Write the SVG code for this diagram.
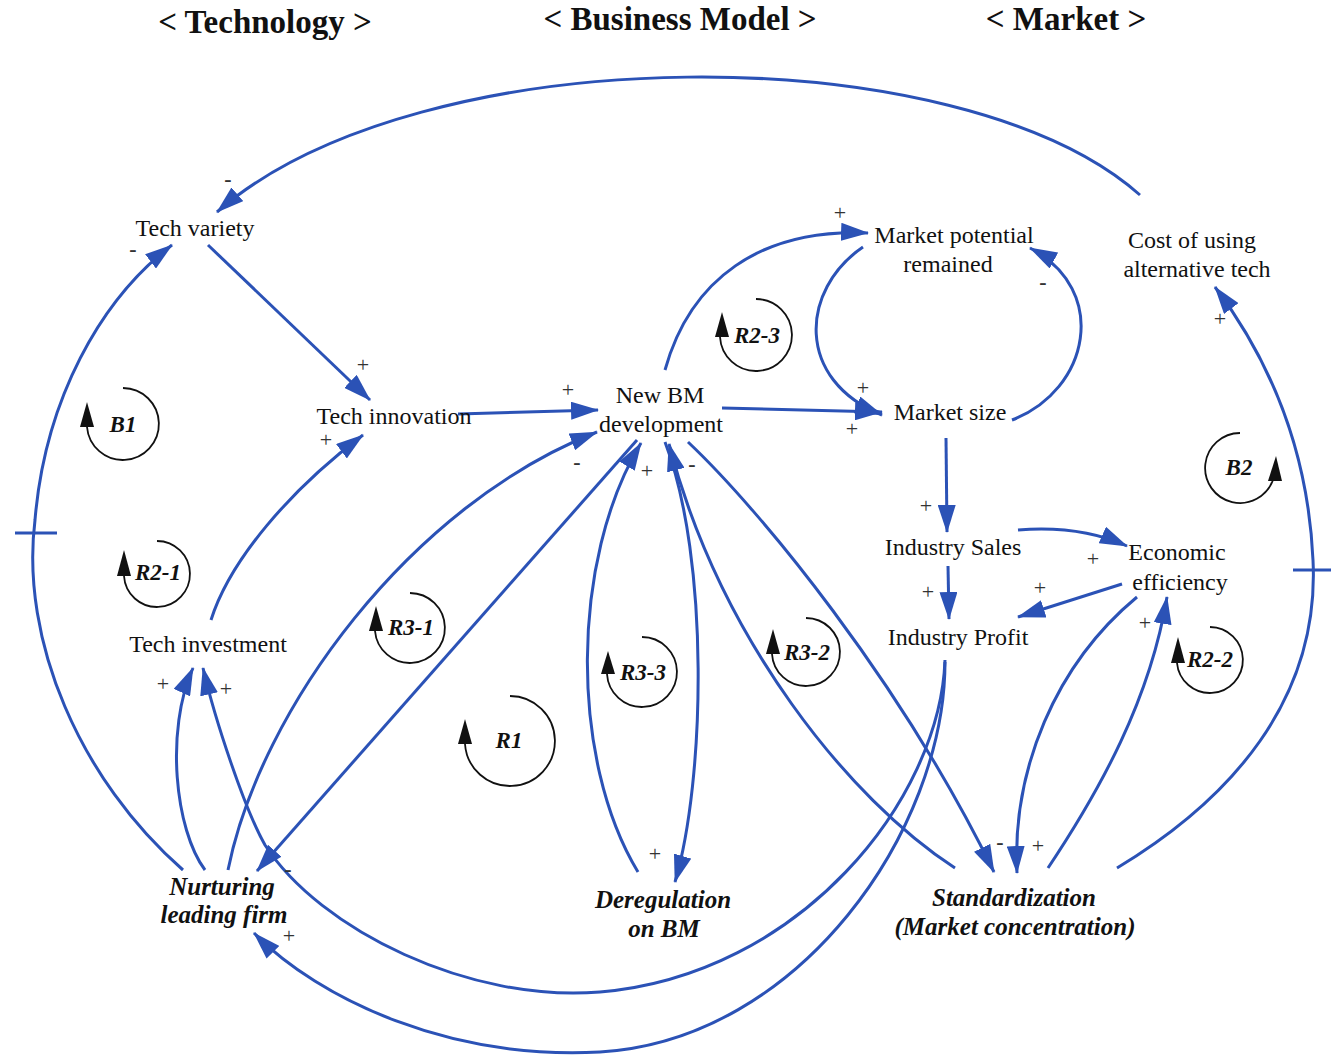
<svg xmlns="http://www.w3.org/2000/svg" width="1331" height="1057" viewBox="0 0 1331 1057">
  <style>
    .lnk { fill: none; stroke: #2b52b6; stroke-width: 3; }
    .arr { marker-end: url(#ah); }
    .tick { fill: none; stroke: #2b52b6; stroke-width: 3; }
    .txt { font-family: "Liberation Serif", "Times New Roman", serif; fill: #111; text-anchor: middle; }
    .hdr { font-size: 33px; font-weight: bold; }
    .var { font-size: 24px; }
    .lev { font-size: 25px; font-weight: bold; font-style: italic; }
    .sgn { font-family: "Liberation Serif", "Times New Roman", serif; font-size: 22px; fill: #333; text-anchor: middle; }
    .neg { font-weight: bold; }
    .loop { fill: none; stroke: #111; stroke-width: 1.8; }
    .lhead { fill: #111; }
    .lid { font-family: "Liberation Serif", "Times New Roman", serif; font-size: 23px; font-weight: bold; font-style: italic; fill: #111; text-anchor: middle; }
  </style>
  <defs>
    <marker id="ah" markerUnits="userSpaceOnUse" viewBox="0 0 28 18" refX="27" refY="9" markerWidth="28" markerHeight="18" orient="auto">
      <path d="M0,0 L28,9 L0,18 Z" fill="#2b52b6"/>
    </marker>
  </defs>
  <rect width="1331" height="1057" fill="#fff"/>

  <!-- sector headings -->
  <g id="headings" class="txt hdr">
    <text x="265" y="33">&lt; Technology &gt;</text>
    <text x="680" y="30">&lt; Business Model &gt;</text>
    <text x="1066" y="30">&lt; Market &gt;</text>
  </g>

  <!-- causal links -->
  <g id="connectors">
    <path class="lnk arr" d="M1140,195 C960,35 420,35 217,212"/>
    <path class="lnk arr" d="M208,245 L370,400"/>
    <path class="lnk arr" d="M183,870 C80,780 20,640 35,520 C45,400 100,300 172,245"/>
    <path class="lnk arr" d="M205,870 C175,830 165,730 193,668"/>
    <path class="lnk arr" d="M945,660 C940,800 800,975 600,992 C470,1003 320,930 265,845 C245,810 215,720 203,668"/>
    <path class="lnk arr" d="M945,662 C945,830 800,1040 600,1052 C450,1060 320,1000 254,933"/>
    <path class="lnk arr" d="M228,870 C260,710 410,505 597,432"/>
    <path class="lnk arr" d="M637,440 L257,871"/>
    <path class="lnk arr" d="M638,872 C570,760 570,560 641,443"/>
    <path class="lnk arr" d="M665,442 C710,560 705,780 675,882"/>
    <path class="lnk arr" d="M955,868 C850,800 720,640 669,444"/>
    <path class="lnk arr" d="M688,442 C760,510 900,680 994,872"/>
    <path class="lnk arr" d="M458,414 L598,410"/>
    <path class="lnk arr" d="M211,620 C230,560 290,490 363,435"/>
    <path class="lnk arr" d="M665,370 C690,280 760,228 868,233"/>
    <path class="lnk arr" d="M863,247 C800,290 795,380 882,415"/>
    <path class="lnk arr" d="M1012,420 C1090,390 1110,290 1030,248"/>
    <path class="lnk arr" d="M722,408 L882,412"/>
    <path class="lnk arr" d="M946,438 L947,532"/>
    <path class="lnk arr" d="M948,566 L949,619"/>
    <path class="lnk arr" d="M1018,530 Q1080,525 1127,546"/>
    <path class="lnk arr" d="M1122,584 L1018,617"/>
    <path class="lnk arr" d="M1137,597 C1055,665 1012,770 1017,873"/>
    <path class="lnk arr" d="M1048,868 C1100,790 1150,700 1167,597"/>
    <path class="lnk arr" d="M1117,868 C1230,800 1320,700 1313,560 C1308,450 1270,360 1215,287"/>
    <!-- delay marks -->
    <path class="tick" d="M15,533 L57,533"/>
    <path class="tick" d="M1293,570 L1331,570"/>
  </g>

  <!-- link polarities -->
  <g id="polarities" class="sgn">
    <text class="neg" x="228" y="186">-</text>
    <text class="neg" x="133" y="256">-</text>
    <text x="363" y="372">+</text>
    <text x="326" y="447">+</text>
    <text x="568" y="397">+</text>
    <text class="neg" x="577" y="469">-</text>
    <text x="647" y="478">+</text>
    <text class="neg" x="692" y="471">-</text>
    <text x="840" y="220">+</text>
    <text x="863" y="395">+</text>
    <text x="852" y="436">+</text>
    <text class="neg" x="1043" y="289">-</text>
    <text x="1220" y="326">+</text>
    <text x="926" y="513">+</text>
    <text x="1093" y="566">+</text>
    <text x="928" y="599">+</text>
    <text x="1040" y="595">+</text>
    <text x="1145" y="630">+</text>
    <text x="163" y="691">+</text>
    <text x="226" y="696">+</text>
    <text class="neg" x="288" y="876">-</text>
    <text x="289" y="943">+</text>
    <text x="655" y="861">+</text>
    <text class="neg" x="1000" y="849">-</text>
    <text x="1038" y="853">+</text>
  </g>

  <!-- variables -->
  <g id="tech-variety" class="txt var"><text x="195" y="236">Tech variety</text></g>
  <g id="tech-innovation" class="txt var"><text x="394" y="424">Tech innovation</text></g>
  <g id="tech-investment" class="txt var"><text x="208" y="652">Tech investment</text></g>
  <g id="new-bm-development" class="txt var">
    <text x="660" y="403">New BM</text>
    <text x="661" y="432">development</text>
  </g>
  <g id="market-potential" class="txt var">
    <text x="954" y="243">Market potential</text>
    <text x="948" y="272">remained</text>
  </g>
  <g id="cost-alt-tech" class="txt var">
    <text x="1192" y="248">Cost of using</text>
    <text x="1197" y="277">alternative tech</text>
  </g>
  <g id="market-size" class="txt var"><text x="950" y="420">Market size</text></g>
  <g id="industry-sales" class="txt var"><text x="953" y="555">Industry Sales</text></g>
  <g id="economic-efficiency" class="txt var">
    <text x="1177" y="560">Economic</text>
    <text x="1180" y="590">efficiency</text>
  </g>
  <g id="industry-profit" class="txt var"><text x="958" y="645">Industry Profit</text></g>
  <g id="nurturing-leading-firm" class="txt lev">
    <text x="222" y="895">Nurturing</text>
    <text x="224" y="923">leading firm</text>
  </g>
  <g id="deregulation-bm" class="txt lev">
    <text x="663" y="908">Deregulation</text>
    <text x="664" y="937">on BM</text>
  </g>
  <g id="standardization" class="txt lev">
    <text x="1014" y="906">Standardization</text>
    <text x="1015" y="935">(Market concentration)</text>
  </g>

  <!-- loop identifiers -->
  <g id="loop-b1">
    <path class="loop" d="M123,388 A36,36 0 1 1 87,427"/>
    <path class="lhead" d="M87,402 L80,427 L94,427 Z"/>
    <text class="lid" x="123" y="432">B1</text>
  </g>
  <g id="loop-r2-1">
    <path class="loop" d="M157,541 A33,33 0 1 1 124,576"/>
    <path class="lhead" d="M124,550 L117,576 L131,576 Z"/>
    <text class="lid" x="158" y="580">R2-1</text>
  </g>
  <g id="loop-r2-3">
    <path class="loop" d="M756,299 A36,36 0 1 1 720,337"/>
    <path class="lhead" d="M722,312 L715,337 L729,337 Z"/>
    <text class="lid" x="757" y="343">R2-3</text>
  </g>
  <g id="loop-r3-1">
    <path class="loop" d="M410,593 A35,35 0 1 1 375,631"/>
    <path class="lhead" d="M376,606 L369,631 L383,631 Z"/>
    <text class="lid" x="411" y="635">R3-1</text>
  </g>
  <g id="loop-r1">
    <path class="loop" d="M510,696 A45,45 0 1 1 465,744"/>
    <path class="lhead" d="M465,719 L458,744 L472,744 Z"/>
    <text class="lid" x="509" y="748">R1</text>
  </g>
  <g id="loop-r3-3">
    <path class="loop" d="M642,637 A35,35 0 1 1 607,674"/>
    <path class="lhead" d="M608,651 L601,674 L615,674 Z"/>
    <text class="lid" x="643" y="680">R3-3</text>
  </g>
  <g id="loop-r3-2">
    <path class="loop" d="M806,618 A34,34 0 1 1 772,654"/>
    <path class="lhead" d="M773,629 L766,654 L780,654 Z"/>
    <text class="lid" x="807" y="660">R3-2</text>
  </g>
  <g id="loop-r2-2">
    <path class="loop" d="M1210,627 A33,33 0 1 1 1177,663"/>
    <path class="lhead" d="M1178,637 L1171,663 L1185,663 Z"/>
    <text class="lid" x="1210" y="667">R2-2</text>
  </g>
  <g id="loop-b2">
    <path class="loop" d="M1240,433 A35,35 0 1 0 1273,480"/>
    <path class="lhead" d="M1276,456 L1268,481 L1282,481 Z"/>
    <text class="lid" x="1239" y="475">B2</text>
  </g>
</svg>
